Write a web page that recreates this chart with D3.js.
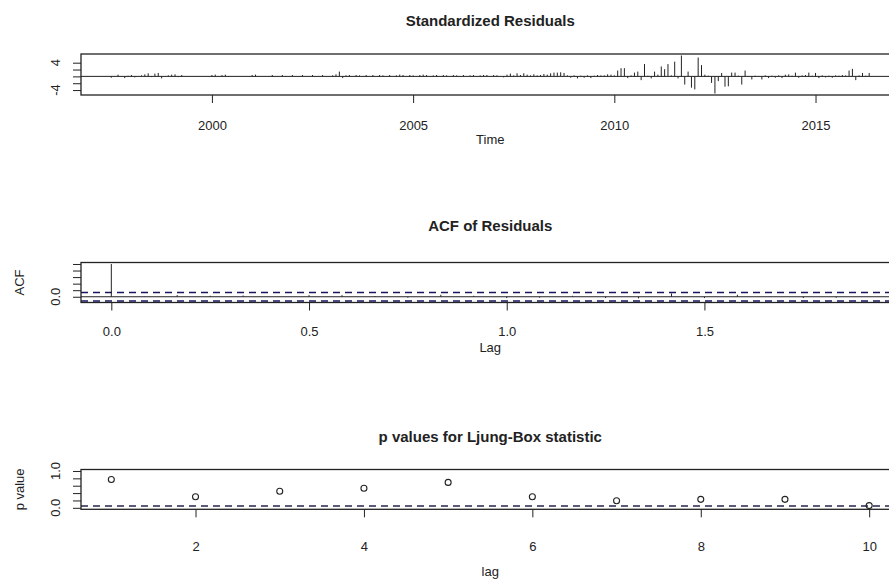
<!DOCTYPE html>
<html>
<head>
<meta charset="utf-8">
<script src="https://cdn.jsdelivr.net/npm/d3@7"></script>
<style>
  body { margin: 0; background: #fff; }
  svg { display: block; }
  text { font-family: "Liberation Sans", Arial, sans-serif; fill: #222; }
  .title { font-weight: bold; font-size: 15px; }
  .lab { font-size: 13px; }
</style>
</head>
<body>
<div id="chart"></div>
<script>
// monthly standardized residuals, Jul 1997 .. May 2016
const residStart = 1997.5;
const resid = [
  -0.4, 0.1, 0.5, 0.05, -0.5, 0.2,
  0.4, -0.3, 0.1, 0.3, 0.6, 0.9, -0.2, 0.8, 1.0, -0.6, 0.1, 0.3,
  0.5, 0.6, -0.2, 0.4, 0.05, 0.02, -0.03, 0.04, 0.02, -0.02, 0.03, 0.01,
  0.4, 0.5, 0.1, 0.4, 0.5, -0.1, 0.03, 0.02, -0.02, 0.05, 0.03, 0.02,
  0.4, 0.5, 0.05, -0.03, 0.02, 0.04, 0.4, 0.05, 0.02, 0.4, 0.1, 0.03,
  0.4, 0.05, 0.03, 0.4, 0.02, 0.05, 0.4, 0.03, -0.02, 0.4, 0.05, 0.03,
  0.3, 0.6, 1.4, -0.5, 0.3, 0.4, 0.05, 0.4, 0.3, 0.05, 0.4, 0.03,
  0.4, 0.05, 0.4, 0.3, 0.03, 0.4, 0.05, 0.3, 0.5, 0.4, 0.05, 0.4,
  0.3, 0.05, 0.4, 0.5, 0.4, 0.05, 0.3, 0.4, 0.05, 0.4, 0.3, 0.05,
  0.4, 0.3, 0.05, 0.4, 0.05, 0.3, 0.4, 0.05, 0.3, 0.4, 0.4, 0.05,
  0.4, 0.3, 0.05, -0.3, 0.5, 0.8, 0.3, 0.9, 0.4, 0.9, 0.5, 0.3,
  0.6, 0.3, 0.4, 0.7, 0.5, 0.9, 1.1, 1.1, 1.2, 1.0, 0.3, -0.4,
  0.3, -0.6, 0.2, -0.4, 0.3, -0.5, 0.2, 0.4, 0.3, 0.3, 0.6, 0.5,
  0.3, 1.7, 2.4, 2.4, -0.5, 0.3, 1.1, 1.4, -1.1, 3.6, 0.2, -0.6,
  1.4, 0.5, 2.9, 2.1, 3.6, 0.3, 4.3, -0.6, 6.1, -2.4, 1.4, -3.3,
  -3.8, 5.5, 3.3, 0.5, 0.2, -1.9, -5.0, -1.4, 1.0, -3.0, -2.9, 1.1,
  1.1, 0.2, -2.4, 1.7, 0.1, -0.9, 0.2, 0.1, -0.9, 0.3, -0.5, 0.2,
  -0.4, 0.3, -0.5, 0.5, 0.6, 0.2, 1.1, -0.4, 0.3, 0.4, 1.1, 0.2,
  1.0, -0.5, 0.3, -0.3, 0.2, -0.4, 0.3, 0.2, 0.4, 0.3, 1.7, 2.2,
  -1.1, 0.3, 1.0, 0.2, 1.0
];
const timeTicks = [2000, 2005, 2010, 2015];
const residYTicks = [-4, -2, 0, 2, 4];
const residYLabels = [-4, 4];

// acf at lags 0..23 (lag in years, frequency 12)
const acfVals = [1.0, 0.01, 0.05, 0.03, 0.04, 0.0, 0.05, 0.05, 0.02, -0.03, 0.06, 0.03,
  -0.04, -0.03, 0.03, -0.04, -0.05, 0.1, -0.04, 0.06, 0.01, -0.04, -0.03, 0.0];
const acfCI = 0.13;
const lagTicks = [0, 0.5, 1.0, 1.5];
const acfYTicks = [0, 0.2, 0.4, 0.6, 0.8, 1.0];
const acfYLabels = [0];

// Ljung-Box p values, lags 1..10
const pVals = [0.77, 0.30, 0.45, 0.53, 0.69, 0.30, 0.19, 0.23, 0.23, 0.06];
const lbTicks = [2, 4, 6, 8, 10];
const pYTicks = [0, 0.2, 0.4, 0.6, 0.8, 1.0];
const pYLabels = [0, 1];

const W = 889, H = 582;
const left = 81, right = 899.5;

const svg = d3.select("#chart").append("svg")
  .attr("width", W).attr("height", H);

// R style range with 4% padding
function rng(vals) {
  const e = d3.extent(vals);
  const p = (e[1] - e[0]) * 0.04;
  return [e[0] - p, e[1] + p];
}

function panel(o) {
  const g = svg.append("g");
  const x = d3.scaleLinear().domain(rng(o.xs)).range([left, right]);
  const y = d3.scaleLinear().domain(rng(o.ys)).range([o.bottom, o.top]);

  // x axis
  const xa = g.append("g")
    .attr("transform", `translate(0,${o.bottom})`)
    .call(d3.axisBottom(x).tickValues(o.xTicks).tickSize(8)
      .tickPadding(o.tickOff - 4.6).tickFormat(o.xFmt));
  xa.select(".domain").remove();
  xa.selectAll("line").attr("stroke", "#222");
  xa.selectAll("text").attr("class", "lab").style("font-size", "13px").attr("fill", "#222");

  // y axis, labels parallel to axis
  const ya = g.append("g")
    .attr("transform", `translate(${left},0)`)
    .call(d3.axisLeft(y).tickValues(o.yTicks).tickSize(8).tickFormat(""));
  ya.select(".domain").remove();
  ya.selectAll("line").attr("stroke", "#222");
  g.selectAll(".ylab").data(o.yLabels).join("text")
    .attr("class", "lab")
    .attr("text-anchor", "middle")
    .attr("transform", d => `translate(60,${y(d)}) rotate(-90)`)
    .text(o.yFmt);

  // title and axis labels
  g.append("text").attr("class", "title")
    .attr("x", (left + right) / 2).attr("y", o.titleY)
    .attr("text-anchor", "middle").text(o.title);
  g.append("text").attr("class", "lab")
    .attr("x", (left + right) / 2).attr("y", o.bottom + o.xlabOff + 4)
    .attr("text-anchor", "middle").text(o.xlab);
  if (o.ylab) {
    g.append("text").attr("class", "lab")
      .attr("text-anchor", "middle")
      .attr("transform", `translate(24,${(o.top + o.bottom) / 2}) rotate(-90)`)
      .text(o.ylab);
  }

  o.draw(g, x, y);

  // box
  g.append("rect")
    .attr("x", left).attr("y", o.top)
    .attr("width", right - left).attr("height", o.bottom - o.top)
    .attr("fill", "none").attr("stroke", "#222").attr("stroke-width", 1.3);
}

// Standardized residuals
const times = resid.map((v, i) => residStart + i / 12);
panel({
  top: 54, bottom: 95, titleY: 26, tickOff: 22, xlabOff: 45,
  title: "Standardized Residuals", xlab: "Time",
  xs: times, ys: resid,
  xTicks: timeTicks, xFmt: d3.format("d"),
  yTicks: residYTicks, yLabels: residYLabels, yFmt: d => String(d),
  draw(g, x, y) {
    g.append("line")
      .attr("x1", left).attr("x2", right)
      .attr("y1", y(0)).attr("y2", y(0)).attr("stroke", "#222");
    g.selectAll(".sp").data(resid).join("line")
      .attr("x1", (d, i) => x(times[i])).attr("x2", (d, i) => x(times[i]))
      .attr("y1", y(0)).attr("y2", d => y(d))
      .attr("stroke", "#222").attr("stroke-width", 1);
  }
});

// ACF of residuals
const lags = acfVals.map((v, i) => i / 12);
panel({
  top: 262.5, bottom: 302.5, titleY: 231, tickOff: 21, xlabOff: 45,
  title: "ACF of Residuals", xlab: "Lag", ylab: "ACF",
  xs: lags, ys: acfVals.concat([-acfCI, acfCI]),
  xTicks: lagTicks, xFmt: d3.format(".1f"),
  yTicks: acfYTicks, yLabels: acfYLabels, yFmt: d3.format(".1f"),
  draw(g, x, y) {
    g.append("line")
      .attr("x1", left).attr("x2", right)
      .attr("y1", y(0)).attr("y2", y(0)).attr("stroke", "#222");
    g.selectAll(".ci").data([-acfCI, acfCI]).join("line")
      .attr("x1", left).attr("x2", right)
      .attr("y1", d => y(d)).attr("y2", d => y(d))
      .attr("stroke", "#16165e").attr("stroke-width", 1.4)
      .attr("stroke-dasharray", "7,5");
    g.selectAll(".ac").data(acfVals).join("line")
      .attr("x1", (d, i) => x(lags[i])).attr("x2", (d, i) => x(lags[i]))
      .attr("y1", y(0)).attr("y2", d => y(d))
      .attr("stroke", "#222");
  }
});

// p values for Ljung-Box statistic
const lbLags = pVals.map((v, i) => i + 1);
panel({
  top: 469.5, bottom: 509.3, titleY: 442, tickOff: 29, xlabOff: 63,
  title: "p values for Ljung-Box statistic", xlab: "lag", ylab: "p value",
  xs: lbLags, ys: [0, 1],
  xTicks: lbTicks, xFmt: d3.format("d"),
  yTicks: pYTicks, yLabels: pYLabels, yFmt: d3.format(".1f"),
  draw(g, x, y) {
    g.append("line")
      .attr("x1", left).attr("x2", right)
      .attr("y1", y(0.05)).attr("y2", y(0.05))
      .attr("stroke", "#26264e").attr("stroke-width", 1.3)
      .attr("stroke-dasharray", "7,5");
    g.selectAll(".pt").data(pVals).join("circle")
      .attr("cx", (d, i) => x(lbLags[i])).attr("cy", d => y(d))
      .attr("r", 3).attr("fill", "none")
      .attr("stroke", "#222").attr("stroke-width", 1.1);
  }
});
</script>
</body>
</html>
